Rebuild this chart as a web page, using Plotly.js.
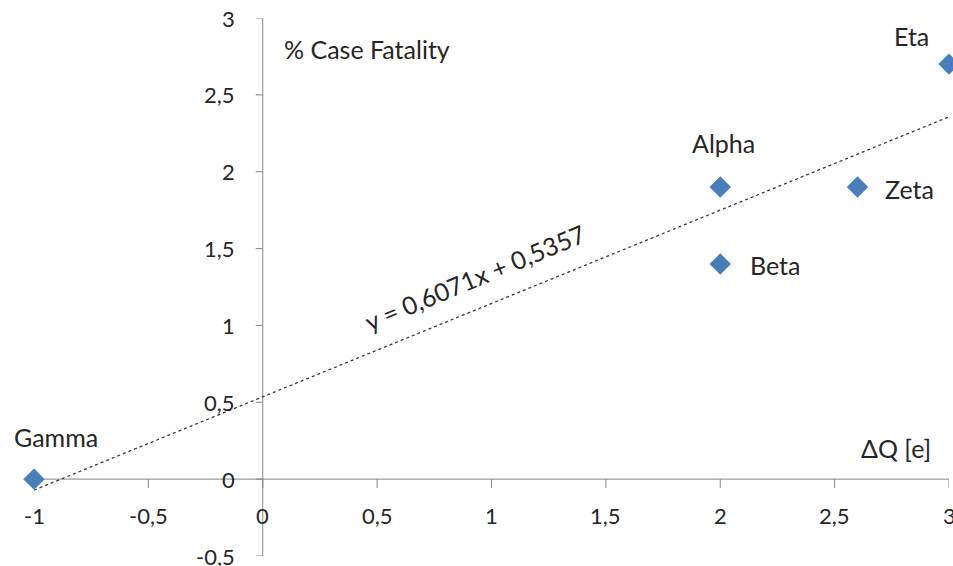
<!DOCTYPE html>
<html>
<head>
<meta charset="utf-8">
<script src="https://cdn.plot.ly/plotly-3.0.1.min.js"></script>
<style>html,body{margin:0;padding:0;background:#fff;}#chart{width:953px;height:566px;}</style>
</head>
<body>
<div id="chart"></div>
<script>
// Data
const names = ["Gamma", "Alpha", "Beta", "Zeta", "Eta"];
const deltaQ = [-1, 2, 2, 2.6, 3];
const caseFatality = [0, 1.9, 1.4, 1.9, 2.7];
const trendSlope = 0.6071;
const trendIntercept = 0.5357;
const trendX = [-1, 3];
const xTicks = [-1, -0.5, 0, 0.5, 1, 1.5, 2, 2.5, 3];
const yTicks = [-0.5, 0, 0.5, 1, 1.5, 2, 2.5, 3];
const xTitle = "ΔQ [e]";
const yTitle = "% Case Fatality";
const trendLabel = "y = 0,6071x + 0,5357";

const fmt = v => String(v).replace('.', ',');
const FONT = "Lato, 'Open Sans', sans-serif";
const TXT = "#262626";
const AX = "#868686";

const trendY = trendX.map(x => trendSlope * x + trendIntercept);

const traces = [
  {
    x: trendX, y: trendY, type: 'scatter', mode: 'lines',
    line: {color: '#3a3a3a', width: 1.3, dash: 'dot'},
    hoverinfo: 'skip', cliponaxis: false
  },
  {
    x: deltaQ, y: caseFatality, type: 'scatter', mode: 'markers',
    marker: {symbol: 'diamond', size: 16.5, color: '#4A7EBB', line: {width: 0}},
    cliponaxis: false
  }
];

const shapes = [
  {type: 'line', xref: 'x', yref: 'y', x0: -1, x1: 3, y0: 0, y1: 0, line: {color: AX, width: 1}, layer: 'below'},
  {type: 'line', xref: 'x', yref: 'y', x0: 0, x1: 0, y0: -0.5, y1: 3, line: {color: AX, width: 1}, layer: 'below'}
];
xTicks.forEach(v => shapes.push({
  type: 'line', xref: 'x', yref: 'y', ysizemode: 'pixel', yanchor: 0,
  x0: v, x1: v, y0: 0, y1: -9, line: {color: AX, width: 1}, layer: 'below'
}));
yTicks.forEach(v => shapes.push({
  type: 'line', xref: 'x', yref: 'y', xsizemode: 'pixel', xanchor: 0,
  x0: -7, x1: 0, y0: v, y1: v, line: {color: AX, width: 1}, layer: 'below'
}));

const annotations = [];
const tf = {family: FONT, size: 22, color: TXT};
const lf = {family: FONT, size: 25, color: TXT};
xTicks.forEach(v => annotations.push({
  xref: 'x', yref: 'y', x: v, y: 0, yshift: -36, text: fmt(v), showarrow: false,
  xanchor: 'center', yanchor: 'middle', font: tf
}));
yTicks.forEach(v => annotations.push({
  xref: 'x', yref: 'y', x: 0, y: v, xshift: -26, text: fmt(v), showarrow: false,
  xanchor: 'right', yanchor: 'middle', font: tf
}));
// axis titles
annotations.push({xref: 'paper', yref: 'y', x: 0.271, y: 2.80, text: yTitle, showarrow: false,
  xanchor: 'left', yanchor: 'middle', font: lf});
annotations.push({xref: 'x', yref: 'y', x: 2.93, y: 0.20, text: xTitle, showarrow: false,
  xanchor: 'right', yanchor: 'middle', font: lf});
// point labels
const labelPos = {
  Gamma: {xanchor: 'center', yanchor: 'middle', xshift: 22, yshift: 42},
  Alpha: {xanchor: 'center', yanchor: 'middle', xshift: 3, yshift: 44},
  Beta: {xanchor: 'left', yanchor: 'middle', xshift: 28, yshift: -1},
  Zeta: {xanchor: 'left', yanchor: 'middle', xshift: 25, yshift: -2},
  Eta: {xanchor: 'center', yanchor: 'middle', xshift: -38, yshift: 28}
};
names.forEach((n, i) => annotations.push(Object.assign({
  xref: 'x', yref: 'y', x: deltaQ[i], y: caseFatality[i], text: n, showarrow: false, font: lf
}, labelPos[n])));
// trendline equation
annotations.push({xref: 'x', yref: 'y', x: 0.929, y: 1.315, text: trendLabel, showarrow: false,
  textangle: -22.6, xanchor: 'center', yanchor: 'middle', font: lf});

const layout = {
  width: 953, height: 566,
  margin: {l: 34, r: 4, t: 18, b: 10},
  paper_bgcolor: '#ffffff', plot_bgcolor: '#ffffff',
  showlegend: false,
  xaxis: {range: [-1, 3], visible: false, fixedrange: true},
  yaxis: {range: [-0.5, 3], visible: false, fixedrange: true},
  shapes: shapes,
  annotations: annotations,
  font: {family: FONT}
};

Plotly.newPlot('chart', traces, layout, {staticPlot: true, displayModeBar: false});
</script>
</body>
</html>
